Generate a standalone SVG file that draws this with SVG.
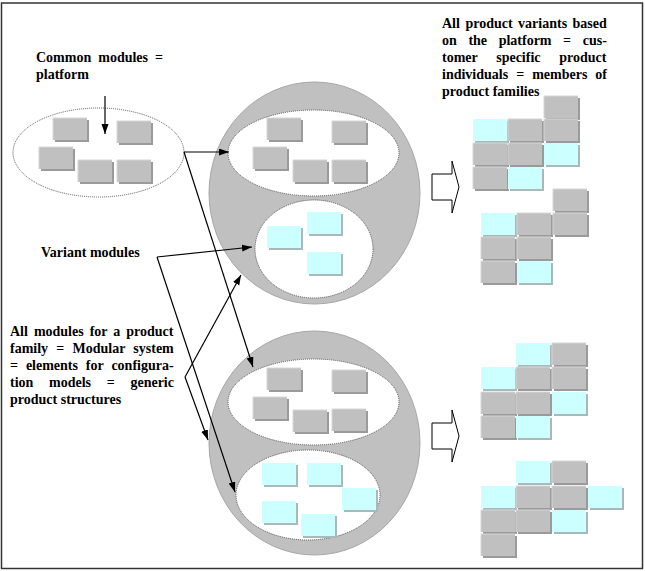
<svg xmlns="http://www.w3.org/2000/svg" xmlns:xlink="http://www.w3.org/1999/xlink" width="645" height="571" viewBox="0 0 645 571">
<style>
.t{font-family:"Liberation Serif","Times New Roman",serif;font-weight:bold;font-size:14px;fill:#000}
.big{fill:#c0c0c0;stroke:#a6a6a6;stroke-width:1}
.inner{fill:#fff;stroke:#555;stroke-width:1;stroke-dasharray:1 1}
.con{stroke:#000;stroke-width:1.2;fill:none;marker-end:url(#ah)}
.blk{fill:#fff;stroke:#000;stroke-width:1}
</style>
<defs>
<marker id="ah" markerUnits="userSpaceOnUse" markerWidth="11" markerHeight="8" refX="10" refY="3.5" orient="auto">
<path d="M0,0 L10,3.5 L0,7 z" fill="#000"/>
</marker>
<g id="gm"><rect x="2" y="2" width="34" height="22" fill="#9a9a9a"/><rect width="34" height="22" fill="#c0c0c0"/><path d="M0,22 V0 H34" fill="none" stroke="#d6d6d6" stroke-width="1"/></g>
<g id="cm"><rect x="2" y="2" width="34" height="22" fill="#a9b8b8"/><rect width="34" height="22" fill="#ccffff"/></g>
</defs>
<rect x="1.5" y="3" width="641" height="565.5" fill="#fff" stroke="#333" stroke-width="1.5"/>

<g id="platform">
<ellipse class="inner" cx="98.5" cy="152.5" rx="85.5" ry="44.5"/>
<use href="#gm" x="53" y="118"/><use href="#gm" x="117" y="121"/><use href="#gm" x="39" y="147"/><use href="#gm" x="78" y="160"/><use href="#gm" x="117" y="160"/>
</g>

<g id="family1">
<ellipse class="big" cx="314.5" cy="193" rx="105.5" ry="111"/>
<ellipse class="inner" cx="313.5" cy="153" rx="85.5" ry="43"/>
<use href="#gm" x="267" y="118"/><use href="#gm" x="332" y="121"/><use href="#gm" x="253" y="147"/><use href="#gm" x="293" y="160"/><use href="#gm" x="332" y="160"/>
<ellipse class="inner" cx="314" cy="249" rx="59" ry="49"/>
<use href="#cm" x="267" y="226"/><use href="#cm" x="307" y="212"/><use href="#cm" x="307" y="252"/>
</g>

<g id="family2">
<ellipse class="big" cx="314.5" cy="443" rx="105.5" ry="112"/>
<ellipse class="inner" cx="313.5" cy="402" rx="85.5" ry="43"/>
<use href="#gm" x="267" y="368"/><use href="#gm" x="332" y="370"/><use href="#gm" x="253" y="397"/><use href="#gm" x="293" y="410"/><use href="#gm" x="332" y="409"/>
<ellipse class="inner" cx="308" cy="495" rx="72" ry="45"/>
<use href="#cm" x="262" y="463"/><use href="#cm" x="307" y="463"/><use href="#cm" x="342" y="488"/><use href="#cm" x="262" y="501"/><use href="#cm" x="301" y="514"/>
</g>

<g id="arrow1"><polygon class="blk" points="432,174 452,174 452,161 459,187 452,213 452,200 432,200"/></g>
<g id="arrow2"><polygon class="blk" points="432,423 452,423 452,410 459,436 452,462 452,449 432,449"/></g>

<g id="variant1">
<use href="#gm" x="544" y="96"/>
<use href="#cm" x="473" y="119"/><use href="#gm" x="508" y="119"/><use href="#gm" x="544" y="119"/>
<use href="#gm" x="473" y="143"/><use href="#gm" x="508" y="143"/><use href="#cm" x="544" y="143"/>
<use href="#gm" x="473" y="167"/><use href="#cm" x="508" y="167"/>
</g>
<g id="variant2">
<use href="#gm" x="553" y="189"/>
<use href="#cm" x="481" y="213"/><use href="#gm" x="517" y="213"/><use href="#gm" x="553" y="213"/>
<use href="#gm" x="481" y="237"/><use href="#gm" x="517" y="237"/>
<use href="#gm" x="481" y="261"/><use href="#cm" x="517" y="261"/>
</g>
<g id="variant3">
<use href="#cm" x="516" y="343"/><use href="#gm" x="552" y="343"/>
<use href="#cm" x="481" y="367"/><use href="#gm" x="516" y="367"/><use href="#gm" x="552" y="367"/>
<use href="#gm" x="481" y="392"/><use href="#gm" x="516" y="392"/><use href="#cm" x="552" y="392"/>
<use href="#gm" x="481" y="416"/><use href="#cm" x="516" y="416"/>
</g>
<g id="variant4">
<use href="#cm" x="516" y="461"/><use href="#gm" x="552" y="461"/>
<use href="#cm" x="481" y="486"/><use href="#gm" x="516" y="486"/><use href="#gm" x="552" y="486"/><use href="#cm" x="588" y="486"/>
<use href="#gm" x="481" y="510"/><use href="#gm" x="516" y="510"/><use href="#cm" x="552" y="510"/>
<use href="#gm" x="481" y="534"/>
</g>

<g id="connectors">
<line class="con" x1="105" y1="96" x2="105" y2="134"/>
<line class="con" x1="184" y1="152" x2="229" y2="152"/>
<line class="con" x1="184" y1="152" x2="253" y2="367"/>
<line class="con" x1="157" y1="257" x2="252" y2="247"/>
<line class="con" x1="157" y1="257" x2="235" y2="492"/>
<line class="con" x1="185" y1="377" x2="241" y2="275"/>
<line class="con" x1="185" y1="377" x2="208" y2="440"/>
</g>

<g id="label-common">
<text class="t" x="36" y="62" word-spacing="3.5">Common modules =</text>
<text class="t" x="36" y="79">platform</text>
</g>
<g id="label-variants">
<text class="t" x="442" y="28" word-spacing="2">All product variants based</text>
<text class="t" x="442" y="45" word-spacing="8.1">on the platform = cus-</text>
<text class="t" x="442" y="62" word-spacing="15.2">tomer specific product</text>
<text class="t" x="442" y="79" word-spacing="4.5">individuals = members of</text>
<text class="t" x="442" y="96">product families</text>
</g>
<g id="label-variant-modules">
<text class="t" x="41" y="257">Variant modules</text>
</g>
<g id="label-all-modules">
<text class="t" x="10" y="336" word-spacing="2.5">All modules for a product</text>
<text class="t" x="10" y="353" word-spacing="4.7">family = Modular system</text>
<text class="t" x="10" y="370" word-spacing="4.4">= elements for configura-</text>
<text class="t" x="10" y="387" word-spacing="12.2">tion models = generic</text>
<text class="t" x="10" y="404">product structures</text>
</g>
</svg>
